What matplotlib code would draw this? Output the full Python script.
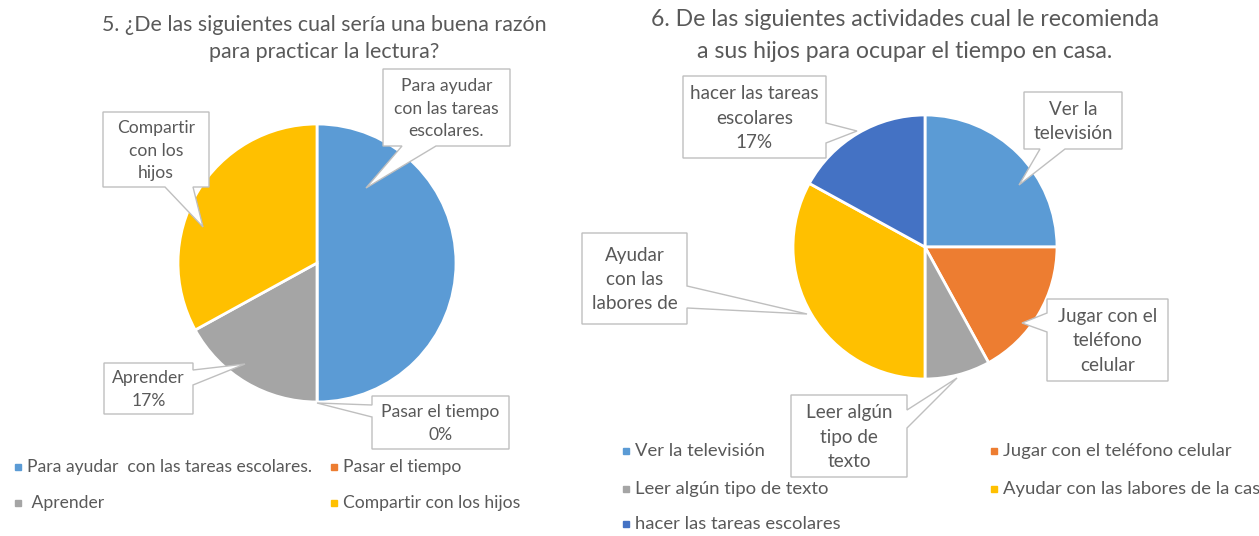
import matplotlib.pyplot as plt
from matplotlib.patches import Polygon

plt.rcParams['font.family'] = ['Lato', 'DejaVu Sans']

# pregunta 5
titulo5 = ["5. ¿De las siguientes cual sería una buena razón", "para practicar la lectura?"]
razones = ["Para ayudar  con las tareas escolares.", "Pasar el tiempo", " Aprender", "Compartir con los hijos"]
razones_pct = [50, 0, 17, 33]
etiquetas5 = ["Para ayudar\ncon las tareas\nescolares.", "Pasar el tiempo\n{}%", "Aprender\n{}%", "Compartir\ncon los\nhijos"]
colores5 = ['#5B9BD5', '#ED7D31', '#A5A5A5', '#FFC000']

# pregunta 6
titulo6 = ["6. De las siguientes actividades cual le recomienda", "a sus hijos para ocupar el tiempo en casa."]
actividades = ["Ver la televisión", "Jugar con el teléfono celular", "Leer algún tipo de texto",
               "Ayudar con las labores de la casa", "hacer las tareas escolares"]
actividades_pct = [25, 17, 8, 33, 17]
etiquetas6 = ["Ver la\ntelevisión", "Jugar con el\nteléfono\ncelular", "Leer algún\ntipo de\ntexto",
              "Ayudar\ncon las\nlabores de", "hacer las tareas\nescolares\n{}%"]
colores6 = ['#5B9BD5', '#ED7D31', '#A5A5A5', '#FFC000', '#4472C4']

GRIS = '#595959'
W, H = 1259, 536

fig = plt.figure(figsize=(W / 100, H / 100), dpi=100)
ax = fig.add_axes([0, 0, 1, 1])


def callout(box, side, base, tip, texto, fs):
    x0, y0, x1, y1 = box
    a, b = base
    if side == 'bottom':
        pts = [(x0, y0), (x1, y0), (x1, y1), (b, y1), tip, (a, y1), (x0, y1)]
    elif side == 'right':
        pts = [(x0, y0), (x1, y0), (x1, a), tip, (x1, b), (x1, y1), (x0, y1)]
    else:
        pts = [(x0, y0), (x1, y0), (x1, y1), (x0, y1), (x0, b), tip, (x0, a)]
    ax.add_patch(Polygon(pts, closed=True, facecolor='white', edgecolor='#BFBFBF', lw=1, zorder=5))
    ax.text((x0 + x1) / 2, (y0 + y1) / 2 + 1, texto, ha='center', va='center', color=GRIS,
            fontsize=fs, linespacing=1.52, zorder=6)


def leyenda(nombres, colores, orden, posiciones, fs):
    for i, (x, y) in zip(orden, posiciones):
        ax.plot(x, y, 's', color=colores[i], ms=5, zorder=6)
        ax.text(x + 9, y, nombres[i], ha='left', va='center', color=GRIS, fontsize=fs)


# y invertido: angulos crecientes giran en sentido horario
wp = dict(edgecolor='white', linewidth=2)
ax.pie(razones_pct, colors=colores5, startangle=-90, counterclock=True,
       center=(317, 263), radius=139, wedgeprops=wp)
ax.pie(actividades_pct, colors=colores6, startangle=-90, counterclock=True,
       center=(925, 247), radius=132, wedgeprops=wp)

ax.set_xlim(0, W)
ax.set_ylim(H, 0)
ax.set_aspect('auto')
ax.axis('off')

for txt, y in zip(titulo5, [25, 52]):
    ax.text(324, y, txt, ha='center', va='center', color=GRIS, fontsize=15.4)
for txt, y in zip(titulo6, [20, 52]):
    ax.text(905, y, txt, ha='center', va='center', color=GRIS, fontsize=16.6)

# etiquetas de datos
cajas5 = [((383, 69, 510, 146), 'bottom', (402, 436), (366, 188)),
          ((372, 396, 509, 449), 'left', (405, 417), (317, 403)),
          ((104, 363, 193, 414), 'right', (370, 385), (245, 364)),
          ((103, 112, 209, 187), 'bottom', (165, 193), (203, 227))]
for (box, side, base, tip), et, v in zip(cajas5, etiquetas5, razones_pct):
    callout(box, side, base, tip, et.format(v), 12.6)

cajas6 = [((1024, 92, 1122, 149), 'bottom', (1040, 1065), (1019, 185)),
          ((1047, 299, 1168, 381), 'left', (313, 332), (1022, 323)),
          ((791, 395, 907, 477), 'right', (410, 428), (957, 378)),
          ((582, 233, 687, 324), 'right', (286, 308), (807, 314)),
          ((683, 76, 826, 158), 'right', (123, 143), (857, 131))]
for (box, side, base, tip), et, v in zip(cajas6, etiquetas6, actividades_pct):
    callout(box, side, base, tip, et.format(v), 13.6)

leyenda(razones, colores5, [0, 1, 2, 3], [(18, 467), (334, 467), (18, 503), (334, 503)], 12.6)
leyenda(actividades, colores6, [0, 1, 2, 3, 4],
        [(626, 451), (994, 451), (626, 489), (994, 489), (626, 524)], 13.3)

fig.savefig('out.png', dpi=100)
